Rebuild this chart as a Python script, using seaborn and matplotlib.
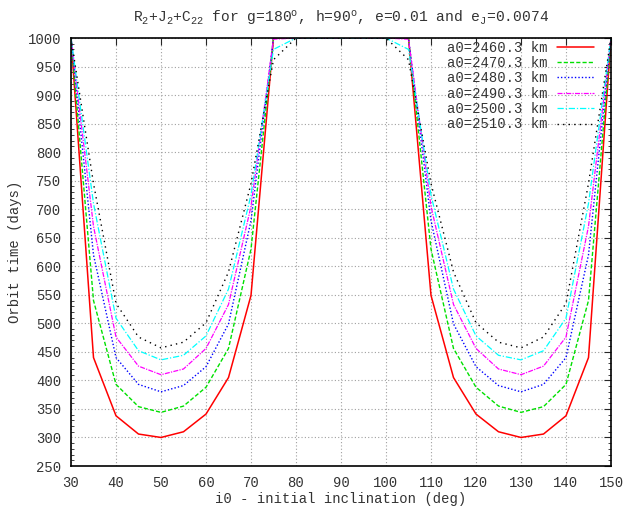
import numpy as np
import pandas as pd
import matplotlib
matplotlib.use("Agg")
import matplotlib.pyplot as plt
import seaborn as sns
from matplotlib.ticker import MultipleLocator

sns.set_theme(style="white")
plt.rcParams['font.family'] = ['Liberation Mono', 'DejaVu Sans']
plt.rcParams['mathtext.fontset'] = 'custom'
plt.rcParams['mathtext.rm'] = 'Liberation Mono'
plt.rcParams['mathtext.it'] = 'Liberation Mono'

incl = [30, 35, 40, 45, 50, 55, 60, 65, 70, 75, 80, 85, 90,
        95, 100, 105, 110, 115, 120, 125, 130, 135, 140, 145, 150]

t_2460 = [1000, 440, 338, 306, 300, 310, 341, 405, 549, 1000, 1000, 1000, 1000,
          1000, 1000, 1000, 549, 405, 341, 310, 300, 306, 338, 440, 1000]
t_2470 = [1000, 540, 393, 354, 344, 355, 388, 456, 630, 1000, 1000, 1000, 1000,
          1000, 1000, 1000, 630, 456, 388, 355, 344, 354, 393, 540, 1000]
t_2480 = [1000, 620, 440, 393, 380, 391, 424, 499, 680, 1000, 1000, 1000, 1000,
          1000, 1000, 1000, 680, 499, 424, 391, 380, 393, 440, 620, 1000]
t_2490 = [1000, 670, 476, 425, 410, 420, 456, 533, 705, 998, 1000, 1000, 1000,
          1000, 1000, 998, 705, 533, 456, 420, 410, 425, 476, 670, 1000]
t_2500 = [1000, 710, 509, 452, 436, 444, 478, 560, 725, 980, 1000, 1000, 1000,
          1000, 1000, 980, 725, 560, 478, 444, 436, 452, 509, 710, 1000]
t_2510 = [1000, 745, 535, 476, 457, 467, 501, 590, 745, 962, 1000, 1000, 1000,
          1000, 1000, 962, 745, 590, 501, 467, 457, 476, 535, 745, 1000]

labels = ["a0=2460.3 km", "a0=2470.3 km", "a0=2480.3 km",
          "a0=2490.3 km", "a0=2500.3 km", "a0=2510.3 km"]
series = [t_2460, t_2470, t_2480, t_2490, t_2500, t_2510]
colors = ["#ff0000", "#00e000", "#0000ff", "#ff00ff", "#00ffff", "#000000"]
styles = ["-", (0, (3, 1.5)), (0, (1, 1.5)), (0, (4, 1, 1, 1)),
          (0, (5, 1.5, 1, 1.5)), (0, (1, 3))]
widths = [1.1, 1.0, 1.0, 0.9, 0.9, 1.0]

fig = plt.figure(figsize=(6.3, 5.16), dpi=100)
ax = fig.add_axes([71/630, 1-466/516, 540/630, 428/516])

for lab, ys, c, ls, lw in zip(labels, series, colors, styles, widths):
    df = pd.DataFrame({"incl": incl, "t": ys})
    sns.lineplot(data=df, x="incl", y="t", color=c, label=lab, ax=ax,
                 linewidth=lw, linestyle=ls)

ax.set_xlim(30, 150)
ax.set_ylim(250, 1000)
ax.xaxis.set_major_locator(MultipleLocator(10))
ax.yaxis.set_major_locator(MultipleLocator(50))
ax.yaxis.set_minor_locator(MultipleLocator(10))
ax.grid(True, which='major', color='#a0a0a0', linestyle=(0, (1, 2)), linewidth=0.8)
ax.tick_params(axis='both', which='major', direction='in', length=5, width=0.8,
               top=True, right=True, labelsize=10, labelcolor='#333333', pad=7)
ax.tick_params(axis='y', which='minor', direction='in', length=2.5, width=0.6,
               left=True, right=True)
for s in ax.spines.values():
    s.set_color('black')
    s.set_linewidth(1.2)

ax.set_xlabel("i0 - initial inclination (deg)", fontsize=10, color='#333333', labelpad=2)
ax.set_ylabel("Orbit time (days)", fontsize=10, color='#333333', labelpad=4)
ax.set_title(r"R$_2$+J$_2$+C$_{22}$ for g=180$^o$, h=90$^o$, e=0.01 and e$_J$=0.0074",
             fontsize=10.5, color='#333333', pad=11)

leg = ax.legend(loc='upper right', bbox_to_anchor=(0.99, 1.02), frameon=False,
                markerfirst=False, handlelength=2.7, labelspacing=0.1,
                fontsize=10, handletextpad=0.7, borderpad=0.3)
for t in leg.get_texts():
    t.set_color('#333333')

fig.savefig("out.png", dpi=100)
